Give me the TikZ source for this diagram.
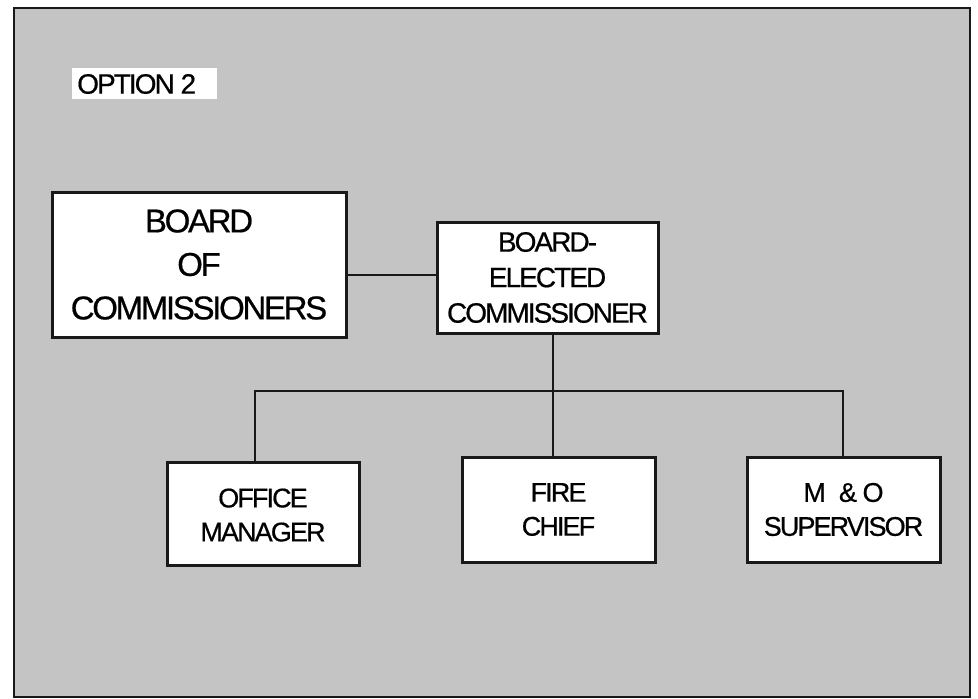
\documentclass[tikz,border=0pt]{standalone}
\usepackage{fontspec}
\setmainfont[LetterSpace=-7,FakeBold=0.6]{Liberation Sans}
\begin{document}
\begin{tikzpicture}[x=1pt,y=-1pt,
  orgbox/.style={draw=black!90, line width=3pt, fill=white, align=center, inner sep=0pt},
  link/.style={draw=black!90, line width=2.6pt},
  bigtxt/.style={font=\fontsize{33}{43.5}\selectfont},
  midtxt/.style={font=\fontsize{28}{35.5}\selectfont},
  smalltxt/.style={font=\fontsize{27}{34}\selectfont}]
\useasboundingbox (0,0) rectangle (978,699);
\fill[white] (0,0) rectangle (978,699);
\draw[fill=black!23, draw=black!90, line width=2.8pt] (14,8) rectangle (970,697);
% option label
\node[fill=white, inner sep=0pt, minimum width=145pt, minimum height=31pt] (optpatch) at (144.5,83.5) {};
\node[anchor=west, inner sep=0pt, font=\fontsize{28}{30}\selectfont] (opt) at (77,84) {OPTION 2};
% boxes
\node[orgbox, bigtxt, minimum width=294pt, minimum height=145pt] (boc) at (199,264.5) {BOARD\\OF\\COMMISSIONERS};
\node[orgbox, midtxt, minimum width=221pt, minimum height=111pt] (bec) at (547.5,277.5) {BOARD-\\ELECTED\\COMMISSIONER};
\node[orgbox, smalltxt, minimum width=192pt, minimum height=103pt] (om) at (263,513.5) {\\[-12pt]OFFICE\\MANAGER};
\node[orgbox, smalltxt, minimum width=193pt, minimum height=105pt] (fc) at (558.5,509.5) {FIRE\\CHIEF};
\node[orgbox, smalltxt, minimum width=193pt, minimum height=105pt] (mo) at (843.5,509.5) {M\hspace{13pt}\& O\\SUPERVISOR};
% connector coordinates
\coordinate (hl) at (300,275);
\coordinate (trunk) at (553,391);
\coordinate (busL) at (255,391);
\coordinate (busR) at (843,391);
% connectors
\draw[link] (boc.east |- hl) -- (bec.west |- hl);
\draw[link] (bec.south -| trunk) -- (fc.north -| trunk);
\draw[link] (om.north -| busL) -- (busL) -- (busR) -- (mo.north -| busR);
\end{tikzpicture}
\end{document}
